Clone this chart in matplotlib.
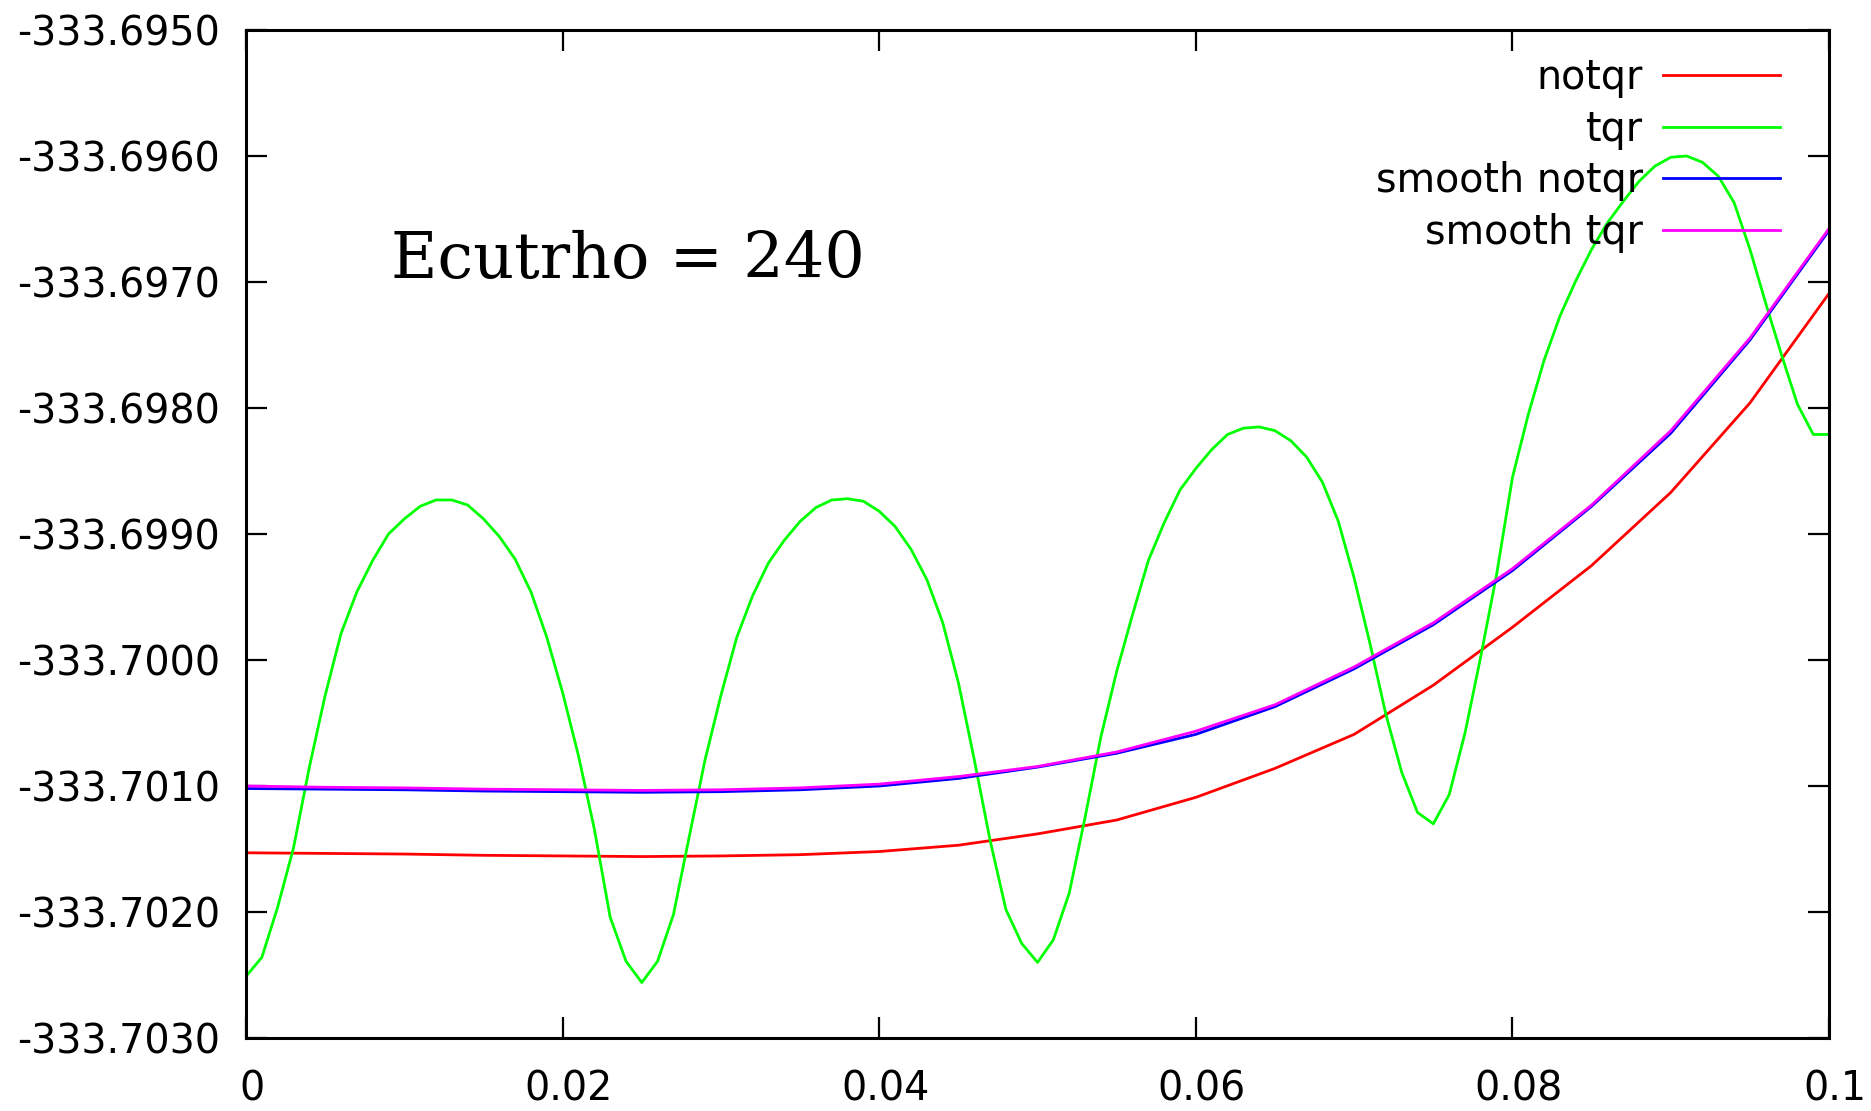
import numpy as np
import matplotlib
matplotlib.use("Agg")
from matplotlib import pyplot as plt
from matplotlib.ticker import FormatStrFormatter
from matplotlib.transforms import ScaledTranslation

# tqr: raw energies, one point every 0.001
x_tqr = np.linspace(0.0, 0.1, 101)
e_tqr = [
    -333.70251, -333.70236, -333.70196, -333.70149, -333.70085, -333.70028, -333.69979, -333.69946,
    -333.69921, -333.69900, -333.69888, -333.69878, -333.69873, -333.69873, -333.69877, -333.69888,
    -333.69902, -333.69920, -333.69946, -333.69982, -333.70026, -333.70076, -333.70134, -333.70204,
    -333.70239, -333.70256, -333.70239, -333.70202, -333.70140, -333.70079, -333.70028, -333.69982,
    -333.69949, -333.69923, -333.69905, -333.69890, -333.69879, -333.69873, -333.69872, -333.69874,
    -333.69882, -333.69894, -333.69912, -333.69936, -333.69970, -333.70018, -333.70079, -333.70143,
    -333.70198, -333.70225, -333.70240, -333.70222, -333.70185, -333.70125, -333.70061, -333.70009,
    -333.69964, -333.69921, -333.69891, -333.69865, -333.69848, -333.69833, -333.69821, -333.69816,
    -333.69815, -333.69818, -333.69826, -333.69839, -333.69859, -333.69890, -333.69935, -333.69987,
    -333.70043, -333.70089, -333.70121, -333.70130, -333.70107, -333.70058, -333.69997, -333.69932,
    -333.69855, -333.69805, -333.69762, -333.69727, -333.69699, -333.69674, -333.69653, -333.69636,
    -333.69620, -333.69608, -333.69601, -333.69600, -333.69605, -333.69616, -333.69637, -333.69674,
    -333.69717, -333.69758, -333.69797, -333.69821, -333.69821,
]

# notqr and the two smoothed curves, one point every 0.005
x_smooth = np.linspace(0.0, 0.1, 21)
e_notqr = [
    -333.70153, -333.701535, -333.70154, -333.70155, -333.701555, -333.70156, -333.701555,
    -333.701545, -333.70152, -333.70147, -333.70138, -333.70127, -333.70109, -333.70086,
    -333.70059, -333.70020, -333.69974, -333.69925, -333.69867, -333.69796, -333.69709,
]
e_smooth_notqr = [
    -333.70102, -333.701025, -333.70103, -333.70104, -333.701045, -333.70105, -333.701045,
    -333.70103, -333.70100, -333.70094, -333.70085, -333.70074, -333.70059, -333.70037,
    -333.70007, -333.69972, -333.69929, -333.69878, -333.69820, -333.69746, -333.69659,
]
e_smooth_tqr = [
    -333.70100, -333.70101, -333.701015, -333.701025, -333.70103, -333.701035, -333.70103,
    -333.701015, -333.700985, -333.700925, -333.700845, -333.70073, -333.700565, -333.700355,
    -333.700055, -333.699705, -333.699275, -333.69877, -333.69818, -333.697445, -333.696575,
]

x_ticks = [0.0, 0.02, 0.04, 0.06, 0.08, 0.1]
x_tick_labels = ["0", "0.02", "0.04", "0.06", "0.08", "0.1"]
y_ticks = [-333.7030, -333.7020, -333.7010, -333.7000, -333.6990,
           -333.6980, -333.6970, -333.6960, -333.6950]

plt.rcParams["axes.unicode_minus"] = False
plt.rcParams["font.family"] = "DejaVu Sans"

fig = plt.figure(figsize=(18.71, 11.11), dpi=100)
ax = fig.add_axes([0.1315, 0.0657, 0.8461, 0.9073])

ax.plot(x_smooth, e_notqr, color="#ff0000", lw=2.0, label="notqr")
ax.plot(x_tqr, e_tqr, color="#00ff00", lw=2.0, label="tqr")
ax.plot(x_smooth, e_smooth_notqr, color="#0000ff", lw=2.0, label="smooth notqr")
ax.plot(x_smooth, e_smooth_tqr, color="#ff00ff", lw=2.0, label="smooth tqr")

ax.set_xlim(0.0, 0.1)
ax.set_ylim(-333.7030, -333.6950)
ax.set_xticks(x_ticks)
ax.set_xticklabels(x_tick_labels)
ax.set_yticks(y_ticks)
ax.yaxis.set_major_formatter(FormatStrFormatter("%.4f"))

for side in ax.spines.values():
    side.set_linewidth(2.2)
ax.tick_params(direction="in", length=15, width=1.6, top=True, right=True,
               labelsize=28.5, colors="black")
ax.tick_params(axis="y", pad=18.5)
ax.tick_params(axis="x", pad=23)

# gnuplot puts x labels a little to the right of the tick
shift = ScaledTranslation(6 / 100, 0, fig.dpi_scale_trans)
for lbl in ax.get_xticklabels():
    lbl.set_transform(lbl.get_transform() + shift)

ax.text(0.0918, 0.754, "Ecutrho = 240", transform=ax.transAxes,
        fontsize=45.8, family="DejaVu Serif", va="baseline", ha="left")

ax.legend(loc="upper right", bbox_to_anchor=(0.9690, 0.972), frameon=False,
          markerfirst=False, fontsize=28.5, handlelength=2.95, handletextpad=0.52,
          labelspacing=0.29, borderpad=0, borderaxespad=0)

fig.savefig("out.png", dpi=100)
